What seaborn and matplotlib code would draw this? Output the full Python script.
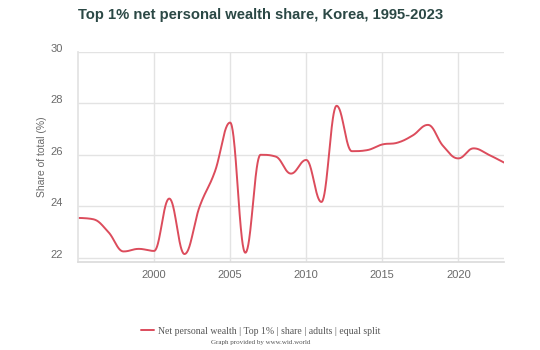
import numpy as np
import pandas as pd
import seaborn as sns
import matplotlib
matplotlib.use("Agg")
import matplotlib.pyplot as plt
from matplotlib.transforms import ScaledTranslation

# Top 1% net personal wealth share, Korea (percent)
years = list(range(1995, 2024))
share = [23.55, 23.5, 23.0, 22.25, 22.35, 22.27, 24.3, 22.15, 24.0, 25.35,
         27.25, 22.2, 26.0, 25.93, 25.27, 25.8, 24.17, 27.9, 26.14, 26.18,
         26.4, 26.47, 26.75, 27.16, 26.34, 25.86, 26.25, 26.0, 25.7]
x_ticks = [2000, 2005, 2010, 2015, 2020]
y_ticks = [22, 24, 26, 28, 30]
series_label = "Net personal wealth | Top 1% | share | adults | equal split"


def spline_path(xs, ys, smoothing=1.5, n=40):
    """Smooth bezier path through the points (spline-style control points)."""
    xs = np.asarray(xs, float)
    ys = np.asarray(ys, float)
    m = len(xs)
    lcx, lcy = xs.copy(), ys.copy()
    rcx, rcy = xs.copy(), ys.copy()
    d = smoothing + 1
    for i in range(1, m - 1):
        px, py = xs[i], ys[i]
        lx, ly = xs[i - 1], ys[i - 1]
        nx, ny = xs[i + 1], ys[i + 1]
        lcx_, lcy_ = (smoothing * px + lx) / d, (smoothing * py + ly) / d
        rcx_, rcy_ = (smoothing * px + nx) / d, (smoothing * py + ny) / d
        if rcx_ != lcx_:
            corr = (rcy_ - lcy_) * (rcx_ - px) / (rcx_ - lcx_) + py - rcy_
            lcy_ += corr
            rcy_ += corr
        if lcy_ > ly and lcy_ > py:
            lcy_ = max(ly, py)
            rcy_ = 2 * py - lcy_
        elif lcy_ < ly and lcy_ < py:
            lcy_ = min(ly, py)
            rcy_ = 2 * py - lcy_
        if rcy_ > ny and rcy_ > py:
            rcy_ = max(ny, py)
            lcy_ = 2 * py - rcy_
        elif rcy_ < ny and rcy_ < py:
            rcy_ = min(ny, py)
            lcy_ = 2 * py - rcy_
        lcx[i], lcy[i], rcx[i], rcy[i] = lcx_, lcy_, rcx_, rcy_
    t = np.linspace(0, 1, n)[:, None]
    out_x, out_y = [], []
    for i in range(m - 1):
        P = np.array([[xs[i], ys[i]], [rcx[i], rcy[i]],
                      [lcx[i + 1], lcy[i + 1]], [xs[i + 1], ys[i + 1]]])
        B = ((1 - t) ** 3) * P[0] + 3 * ((1 - t) ** 2) * t * P[1] \
            + 3 * (1 - t) * t ** 2 * P[2] + t ** 3 * P[3]
        if i > 0:
            B = B[1:]
        out_x.extend(B[:, 0])
        out_y.extend(B[:, 1])
    return np.array(out_x), np.array(out_y)


sns.set_theme(style="white")
plt.rcParams["font.family"] = ["Liberation Sans", "DejaVu Sans"]

fig = plt.figure(figsize=(5.4, 3.5), dpi=100)
ax = fig.add_axes([0.1444, 0.2514, 0.7889, 0.6009])

cx, cy = spline_path(years, share)
curve = pd.DataFrame({"year": cx, "share": cy})
line_color = "#dc4c5c"
sns.lineplot(data=curve, x="year", y="share", ax=ax, color=line_color,
             linewidth=1.4, sort=False, estimator=None, label=series_label)

ax.set_xlim(1995, 2023)
ax.set_ylim(21.84, 30)
ax.set_xticks(x_ticks)
ax.set_yticks(y_ticks)
ax.grid(True, color="#e3e3e3", linewidth=1.0)
ax.set_axisbelow(True)
for side in ["top", "right"]:
    ax.spines[side].set_visible(False)
ax.spines["left"].set_color("#e3e3e3")
ax.spines["bottom"].set_color("#dcdcdc")
ax.tick_params(axis="both", length=0, labelsize=8, colors="#6a6a6a")
ax.tick_params(axis="x", pad=6)
ax.tick_params(axis="y", pad=11)
shift = ScaledTranslation(0, 4 / 100, fig.dpi_scale_trans)
for lab in ax.get_yticklabels():
    lab.set_transform(lab.get_transform() + shift)

ax.set_xlabel("")
ax.set_ylabel("Share of total (%)", fontsize=7.5, color="#6a6a6a", labelpad=2)

fig.text(0.4824, 0.958, "Top 1% net personal wealth share, Korea, 1995-2023",
         ha="center", va="center", fontsize=10.6, fontweight="bold",
         family="Liberation Sans", color="#2b4845")

ax.get_legend().remove()
fig.legend(handles=ax.get_lines()[:1], labels=[series_label],
           loc="center", bbox_to_anchor=(0.483, 0.054), frameon=False,
           prop={"family": "Liberation Serif", "size": 7.0},
           handlelength=1.3, handletextpad=0.5, labelcolor="#555555")
fig.text(0.483, 0.022, "Graph provided by www.wid.world", ha="center",
         va="center", fontsize=5, family="Liberation Serif", color="#555555")

fig.savefig("out.png", dpi=100)
